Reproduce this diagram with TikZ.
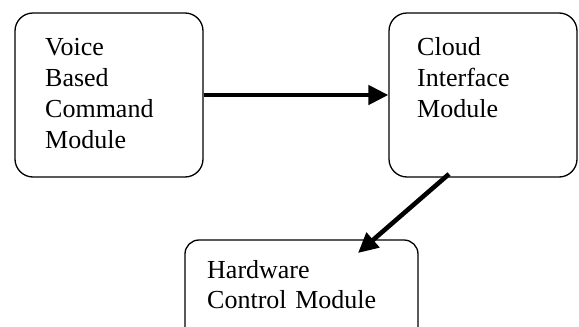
\documentclass[tikz,border=0pt]{standalone}
\usepackage{fontspec}
\setmainfont{Liberation Serif}
\usetikzlibrary{arrows.meta}
\begin{document}
\begin{tikzpicture}[x=1pt,y=-1pt,
  modbox/.style={draw=black, line width=1.3pt, rounded corners=18pt, inner sep=0pt},
  modtext/.style={anchor=base west, inner sep=0pt, align=left, text width=170pt,
    font=\fontsize{26}{31}\selectfont},
  flow/.style={line width=4.6pt, -{Triangle[length=20pt,width=19pt]}}]
\useasboundingbox (0,0) rectangle (579,327);
\begin{scope}
\clip (0,0) rectangle (579,327);
\node[modbox, minimum width=188pt, minimum height=164pt] (vbc) at (109,95) {};
\node[modbox, minimum width=188pt, minimum height=164pt] (cim) at (483,95) {};
\node[modbox, rounded corners=14pt, minimum width=233pt, minimum height=110pt] (hcm) at (301.5,295) {};
\end{scope}
\node[modtext] (vbct) at (45,55) {Voice\\Based\\Command\\Module};
\node[modtext] (cimt) at (417,55) {Cloud\\Interface\\Module};
\node[modtext, text width=220pt, font=\fontsize{26}{30}\selectfont] (hcmt) at (207,278) {Hardware\\Control Module};
\coordinate (a2s) at (449,174);
\coordinate (a2e) at (358,253);
\draw[flow] (vbc.east) -- (cim.west);
\draw[flow] (a2s) -- (a2e);
\end{tikzpicture}
\end{document}
